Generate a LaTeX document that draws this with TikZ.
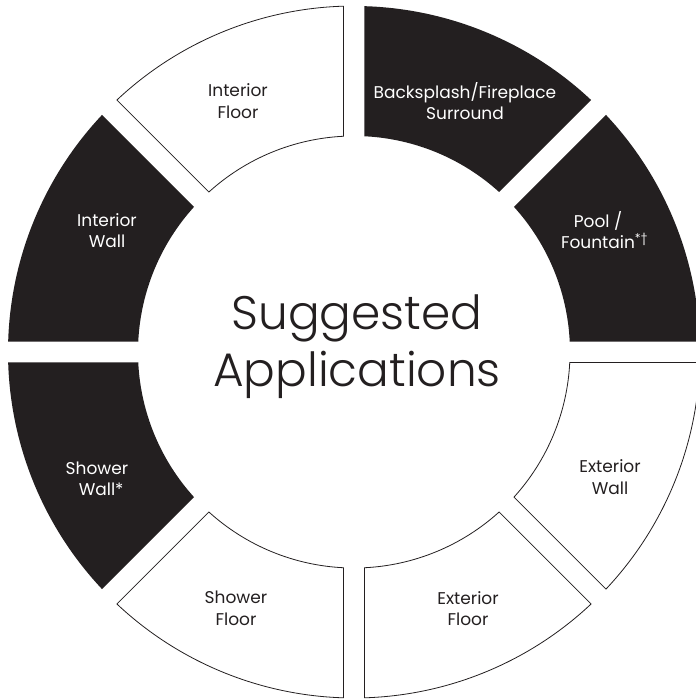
\documentclass[tikz,border=0pt]{standalone}
\usepackage{fontspec}
\setmainfont{Poppins}
\IfFontExistsTF{Poppins Light}{\newfontfamily\titlefont{Poppins Light}}{\newfontfamily\titlefont{Poppins}}
\usepackage{tikz}
\definecolor{ink}{HTML}{231F20}

\begin{document}
\begin{tikzpicture}[x = 1pt, y = 1pt,
    darkpart/.style = {fill = ink},
    lightpart/.style = {draw = ink, fill = white, line width = 0.8pt},
    darklabel/.style = {text = white, align = center, font = \fontsize{17}{21.5}\selectfont},
    lightlabel/.style = {text = ink, align = center, font = \fontsize{17}{21.5}\selectfont}]
      \useasboundingbox (-354, -347) rectangle (342, 352);
      % ring of eight parts, gaps of constant width
      \foreach \a / \kind in {0/darkpart, 45/darkpart, 90/lightpart, 135/darkpart,
                              180/darkpart, 225/lightpart, 270/lightpart, 315/lightpart}{
        \path [\kind] (\a + 1.739 : 346)
          arc [start angle = \a + 1.739, end angle = \a + 43.261, radius = 346]
          -- (\a + 42.214 : 216)
          arc [start angle = \a + 42.214, end angle = \a + 2.786, radius = 216]
          -- cycle;
      }
      % labels
      \node [lightlabel] (intfloor) at (-116, 251) {Interior\\Floor};
      \node [darklabel] (backsplash) at (111, 251) {Backsplash/Fireplace\\Surround};
      \node [darklabel] (pool) at (244, 122) {Pool /\\Fountain\rlap{\textsuperscript{*\textdagger}}};
      \node [lightlabel] (extwall) at (256, -125) {Exterior\\Wall};
      \node [lightlabel] (extfloor) at (114, -256.5) {Exterior\\Floor};
      \node [lightlabel] (showfloor) at (-118, -256.5) {Shower\\Floor};
      \node [darklabel] (showwall) at (-257, -127) {Shower\\Wall\rlap{*}};
      \node [darklabel] (intwall) at (-247, 121.5) {Interior\\Wall};
      \node [text = ink, align = center, font = \titlefont\fontsize{47}{57}\selectfont]
        (title) at (3, 5) {Suggested\\Applications};
    \end{tikzpicture}
\end{document}
